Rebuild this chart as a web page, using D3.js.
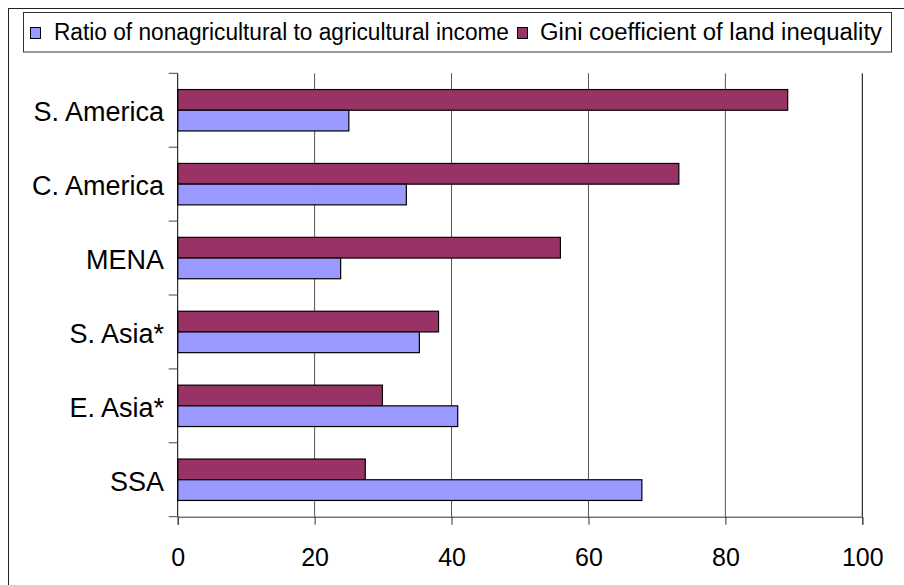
<!DOCTYPE html>
<html><head><meta charset="utf-8">
<script src="https://cdn.jsdelivr.net/npm/d3@7"></script>
<style>body{margin:0;background:#fff}svg{display:block;font-family:"Liberation Sans",Arial,Helvetica,sans-serif}</style>
</head><body><svg id="c" width="904" height="585"></svg>
<script>
const categories = ["S. America", "C. America", "MENA", "S. Asia*", "E. Asia*", "SSA"];
const ratioValues = [25.0, 33.4, 23.8, 35.3, 40.9, 67.8];
const giniValues = [89.1, 73.2, 55.9, 38.1, 29.9, 27.4];
const seriesNames = ["Ratio of nonagricultural to agricultural income", "Gini coefficient of land inequality"];
const seriesColors = ["#9999FF", "#993366"];
const xTicks = [0, 20, 40, 60, 80, 100];

const svg = d3.select("#c");
const L = 177.7, R = 862.3, T = 73.3, B = 516.7;

// outer chart border
svg.append("rect").attr("x", 8.5).attr("y", 8.5).attr("width", 920).attr("height", 600)
  .attr("fill", "none").attr("stroke", "#222").attr("stroke-width", 1);

const x = d3.scaleLinear().domain([0, 100]).range([L, R]);
const y = d3.scaleBand().domain(categories).range([T, B]).paddingInner(0).paddingOuter(0);
const sub = d3.scaleBand().domain(["gini", "ratio"]).range([0, y.bandwidth()]).paddingInner(0).paddingOuter(0.785);

// gridlines
svg.append("g").selectAll("line").data(xTicks.filter(d => d > 0)).join("line")
  .attr("x1", d => x(d)).attr("x2", d => x(d)).attr("y1", T).attr("y2", B)
  .attr("stroke", d => d === 100 ? "#000" : "#555").attr("stroke-width", 1);

const rows = categories.map((c, i) => ({c, ratio: ratioValues[i], gini: giniValues[i]}));
const g = svg.append("g");
rows.forEach(r => {
  g.append("rect").attr("x", x(0)).attr("y", y(r.c) + sub("gini"))
    .attr("width", x(r.gini) - x(0)).attr("height", sub.bandwidth())
    .attr("fill", seriesColors[1]).attr("stroke", "#000").attr("stroke-width", 1.2);
  g.append("rect").attr("x", x(0)).attr("y", y(r.c) + sub("ratio"))
    .attr("width", x(r.ratio) - x(0)).attr("height", sub.bandwidth())
    .attr("fill", seriesColors[0]).attr("stroke", "#000").attr("stroke-width", 1.2);
});

// x axis
const xa = svg.append("g").attr("transform", `translate(0,${B})`)
  .call(d3.axisBottom(x).tickValues(xTicks).tickSize(8).tickPadding(24).tickFormat(d3.format("d")));
xa.select(".domain").attr("stroke", "#333");
xa.selectAll(".tick line").attr("stroke", "#333");
xa.selectAll("text").attr("font-size", 25).attr("fill", "#000").attr("font-family", "Liberation Sans, Arial, sans-serif");

// y axis: ticks at band boundaries
svg.append("line").attr("x1", L).attr("x2", L).attr("y1", T).attr("y2", B).attr("stroke", "#000");
const bounds = categories.map(c => y(c)).concat([B]);
svg.append("g").selectAll("line").data(bounds).join("line")
  .attr("x1", L - 9).attr("x2", L).attr("y1", d => d).attr("y2", d => d).attr("stroke", "#444");
svg.append("g").selectAll("text").data(categories).join("text")
  .attr("x", 164).attr("y", d => y(d) + y.bandwidth() / 2 + 11)
  .attr("text-anchor", "end").attr("font-size", 27).attr("fill", "#000").text(d => d);

// legend
const lg = svg.append("g");
lg.append("rect").attr("x", 23.5).attr("y", 12.5).attr("width", 868).attr("height", 39.5)
  .attr("fill", "#fff").attr("stroke", "#333").attr("stroke-width", 1);
const legendItems = [
  {name: seriesNames[0], color: seriesColors[0], sx: 30.5, tx: 54, len: 455},
  {name: seriesNames[1], color: seriesColors[1], sx: 517.5, tx: 540, len: 342}
];
legendItems.forEach(it => {
  lg.append("rect").attr("x", it.sx).attr("y", 27.5).attr("width", 10).attr("height", 11)
    .attr("fill", it.color).attr("stroke", "#000").attr("stroke-width", 1);
  lg.append("text").attr("x", it.tx).attr("y", 40).attr("font-size", 23)
    .attr("textLength", it.len).attr("lengthAdjust", "spacingAndGlyphs").attr("fill", "#000").text(it.name);
});
</script></body></html>
